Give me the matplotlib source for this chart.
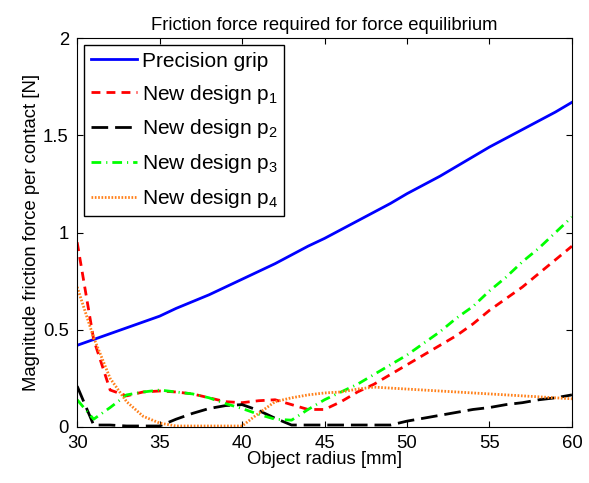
import matplotlib
matplotlib.use("Agg")
import matplotlib.pyplot as plt
import numpy as np

plt.rcParams['font.family'] = ['Liberation Sans', 'DejaVu Sans']
plt.rcParams['mathtext.fontset'] = 'custom'
plt.rcParams['mathtext.rm'] = 'Liberation Sans'
plt.rcParams['mathtext.it'] = 'Liberation Sans'

# Object radius [mm]
radius = np.arange(30, 61)

# Friction force per contact [N]
precision_grip = [0.42, 0.45, 0.48, 0.51, 0.54, 0.57, 0.61, 0.645, 0.68, 0.72,
                  0.76, 0.80, 0.84, 0.885, 0.93, 0.97, 1.015, 1.06, 1.105, 1.15,
                  1.20, 1.245, 1.29, 1.34, 1.39, 1.44, 1.485, 1.53, 1.575, 1.62, 1.67]
design_p1 = [0.95, 0.45, 0.19, 0.16, 0.18, 0.185, 0.18, 0.17, 0.15, 0.13,
             0.125, 0.135, 0.14, 0.115, 0.09, 0.09, 0.13, 0.18, 0.22, 0.27,
             0.32, 0.37, 0.42, 0.47, 0.53, 0.60, 0.66, 0.72, 0.79, 0.86, 0.93]
design_p2 = [0.21, 0.01, 0.01, 0.005, 0.005, 0.005, 0.04, 0.07, 0.095, 0.11,
             0.115, 0.085, 0.045, 0.01, 0.01, 0.01, 0.01, 0.01, 0.01, 0.01,
             0.03, 0.045, 0.06, 0.075, 0.09, 0.10, 0.115, 0.125, 0.14, 0.15, 0.165]
design_p3 = [0.14, 0.04, 0.10, 0.165, 0.18, 0.19, 0.18, 0.17, 0.15, 0.12,
             0.095, 0.065, 0.04, 0.035, 0.09, 0.14, 0.18, 0.22, 0.27, 0.32,
             0.37, 0.43, 0.49, 0.56, 0.62, 0.70, 0.77, 0.85, 0.92, 1.0, 1.08]
design_p4 = [0.72, 0.46, 0.25, 0.13, 0.055, 0.02, 0.005, 0.005, 0.005, 0.005,
             0.005, 0.07, 0.13, 0.15, 0.165, 0.175, 0.18, 0.195, 0.205, 0.20,
             0.195, 0.19, 0.185, 0.18, 0.175, 0.17, 0.165, 0.16, 0.155, 0.15, 0.145]

fig = plt.figure(figsize=(5.89, 4.83), dpi=100)
ax = fig.add_axes([0.131, 0.116, 0.84, 0.805])

lw = 2.0
ax.plot(radius, precision_grip, color=(0, 0, 1), lw=lw, label='Precision grip')
ax.plot(radius, design_p1, color=(1, 0, 0), lw=lw, linestyle=(0, (3.2, 2.2)),
        label='New design p$_1$')
ax.plot(radius, design_p2, color='black', lw=lw, linestyle=(0, (6, 2.5)),
        label='New design p$_2$')
ax.plot(radius, design_p3, color=(0, 1, 0), lw=lw, linestyle=(0, (3.5, 1.8, 0.4, 1.8)),
        label='New design p$_3$')
ax.plot(radius, design_p4, color=(1, 0.5, 0.1), lw=lw, linestyle=(0, (0.6, 0.6)),
        label='New design p$_4$')

ax.set_xlim(30, 60)
ax.set_ylim(0, 2)
ax.set_xticks([30, 35, 40, 45, 50, 55, 60])
ax.set_yticks([0, 0.5, 1, 1.5, 2])
ax.set_yticklabels(['0', '0.5', '1', '1.5', '2'])
ax.tick_params(direction='in', top=True, right=True, labelsize=13.3, length=4)
ax.tick_params(axis='x', pad=6)
ax.tick_params(axis='y', pad=6)
ax.set_xlabel('Object radius [mm]', fontsize=13.3, labelpad=-1)
ax.set_ylabel('Magnitude friction force per contact [N]', fontsize=13.3, labelpad=2)
ax.set_title('Friction force required for force equilibrium', fontsize=13.3, pad=6)

leg = ax.legend(loc='upper left', fontsize=15, frameon=True, fancybox=False,
                edgecolor='black', framealpha=1, handlelength=2.2,
                handletextpad=0.25, borderaxespad=0.35, labelspacing=0.57,
                borderpad=0.3)
leg.get_frame().set_linewidth(1.0)

fig.savefig('out.png', dpi=100)
